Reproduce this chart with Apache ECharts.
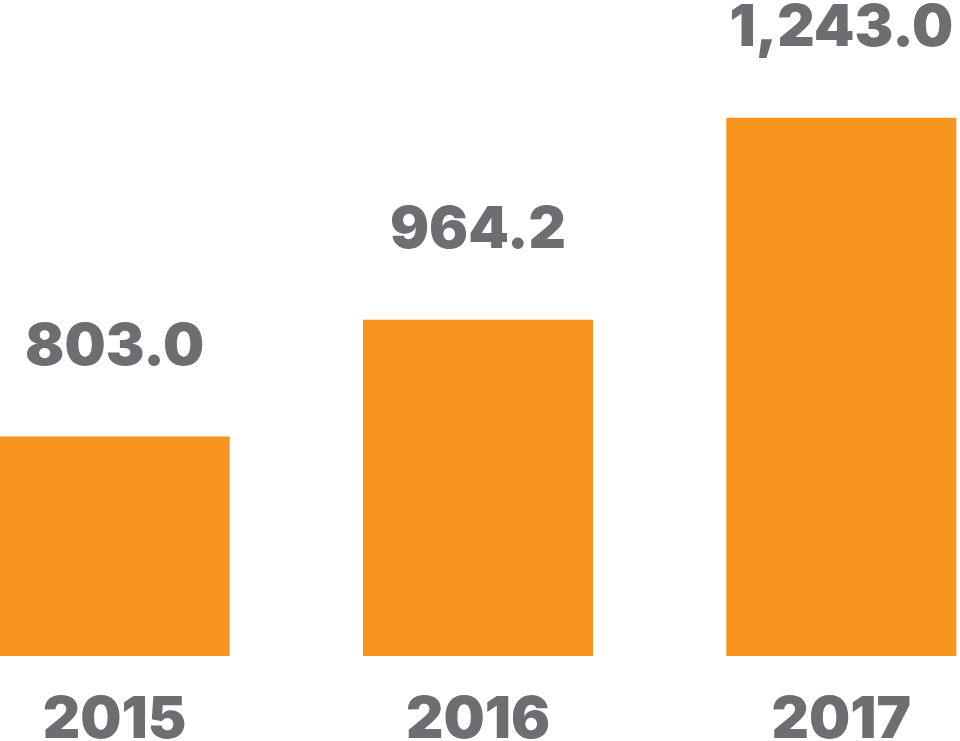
<!DOCTYPE html>
<html>
<head>
<meta charset="utf-8">
<script src="https://cdn.jsdelivr.net/npm/echarts@6/dist/echarts.min.js"></script>
<style>
html,body{margin:0;padding:0;background:#fff;}
#chart{width:960px;height:741px;}
</style>
</head>
<body>
<div id="chart"></div>
<script>
const categories = ['2015', '2016', '2017'];
const values = [803.0, 964.2, 1243.0];

const gray = '#6d6e71';
const orange = '#f7941e';
const fontFamily = 'Inter, "Liberation Sans", Arial, sans-serif';

const chart = echarts.init(document.getElementById('chart'), null, {renderer: 'canvas'});
chart.setOption({
  animation: false,
  backgroundColor: '#ffffff',
  grid: {left: -67, right: -63, top: 4, bottom: 85, outerBoundsMode: 'none', containLabel: false},
  xAxis: {
    type: 'category',
    data: categories,
    boundaryGap: true,
    axisLine: {show: false},
    axisTick: {show: false},
    axisLabel: {
      margin: 36,
      color: gray,
      fontFamily: fontFamily,
      fontWeight: 900,
      fontSize: 58,
      hideOverlap: false
    }
  },
  yAxis: {
    type: 'value',
    min: 500,
    max: 1400,
    show: false,
    splitLine: {show: false}
  },
  series: [{
    type: 'bar',
    data: values,
    barWidth: 230,
    clip: true,
    itemStyle: {color: orange},
    label: {
      show: true,
      position: 'top',
      distance: 60,
      color: gray,
      fontFamily: fontFamily,
      fontWeight: 900,
      fontSize: 58,
      formatter: function (p) {
        return p.value.toLocaleString('en-US', {minimumFractionDigits: 1, maximumFractionDigits: 1});
      }
    }
  }]
});
</script>
</body>
</html>
